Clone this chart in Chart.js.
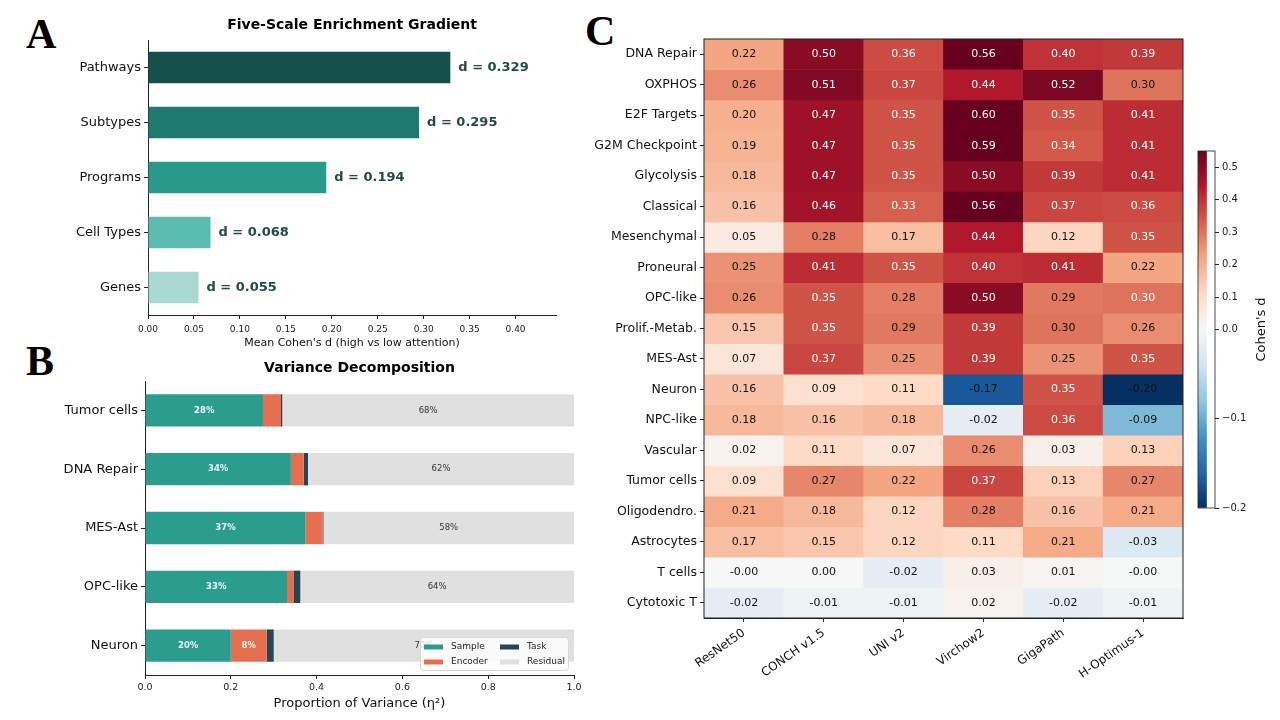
<!DOCTYPE html>
<html>
<head>
<meta charset="utf-8">
<script src="https://cdn.jsdelivr.net/npm/chart.js@4.4.1/dist/chart.umd.min.js"></script>
<style>
  body { margin: 0; width: 1280px; height: 720px; background: #fff; position: relative; overflow: hidden; }
  canvas { position: absolute; }
  .panel { position: absolute; font-family: "Liberation Serif", serif; font-weight: bold; font-size: 42px; line-height: 1; color: #000; }
</style>
</head>
<body>
<div class="panel" style="left:26px;top:13px">A</div>
<div class="panel" style="left:26px;top:340px">B</div>
<div class="panel" style="left:585px;top:10px">C</div>

<canvas id="cA" width="600" height="360" style="left:0;top:0"></canvas>
<canvas id="cB" width="600" height="365" style="left:0;top:355px"></canvas>
<canvas id="cC" width="600" height="720" style="left:590px;top:0"></canvas>
<canvas id="cBar" width="90" height="400" style="left:1190px;top:130px"></canvas>

<script>
// ---- panel A : enrichment gradient
const scaleLevels = ['Pathways', 'Subtypes', 'Programs', 'Cell Types', 'Genes'];
const cohenD = [0.329, 0.295, 0.194, 0.068, 0.055];
const aTicks = [0, 0.05, 0.10, 0.15, 0.20, 0.25, 0.30, 0.35, 0.40];
const levelColors = ['#14514a', '#1e7a6e', '#2a9a8c', '#5bbdb2', '#a8d8d0'];

// ---- panel B : variance decomposition
const compLabels = ['Tumor cells', 'DNA Repair', 'MES-Ast', 'OPC-like', 'Neuron'];
const sampleShare = [0.275, 0.34, 0.374, 0.331, 0.20];
const encoderShare = [0.042, 0.03, 0.04, 0.015, 0.084];
const taskShare = [0.003, 0.01, 0.002, 0.016, 0.016];
const residualShare = [0.68, 0.62, 0.584, 0.638, 0.70];
const bTicks = [0, 0.2, 0.4, 0.6, 0.8, 1.0];

// ---- panel C : Cohen's d heatmap
const rowLabels = ['DNA Repair', 'OXPHOS', 'E2F Targets', 'G2M Checkpoint', 'Glycolysis', 'Classical',
  'Mesenchymal', 'Proneural', 'OPC-like', 'Prolif.-Metab.', 'MES-Ast', 'Neuron', 'NPC-like',
  'Vascular', 'Tumor cells', 'Oligodendro.', 'Astrocytes', 'T cells', 'Cytotoxic T'];
const models = ['ResNet50', 'CONCH v1.5', 'UNI v2', 'Virchow2', 'GigaPath', 'H-Optimus-1'];
const resnetD   = [0.22, 0.26, 0.20, 0.19, 0.18, 0.16, 0.05, 0.25, 0.26, 0.15, 0.07, 0.16, 0.18, 0.02, 0.09, 0.21, 0.17, -0.001, -0.02];
const conchD    = [0.50, 0.51, 0.47, 0.47, 0.47, 0.46, 0.28, 0.41, 0.35, 0.35, 0.37, 0.09, 0.16, 0.11, 0.27, 0.18, 0.15, 0.00, -0.01];
const uniD      = [0.36, 0.37, 0.35, 0.35, 0.35, 0.33, 0.17, 0.35, 0.28, 0.29, 0.25, 0.11, 0.18, 0.07, 0.22, 0.12, 0.12, -0.02, -0.01];
const virchowD  = [0.56, 0.44, 0.60, 0.59, 0.50, 0.56, 0.44, 0.40, 0.50, 0.39, 0.39, -0.17, -0.02, 0.26, 0.37, 0.28, 0.11, 0.03, 0.02];
const gigapathD = [0.40, 0.52, 0.35, 0.34, 0.39, 0.37, 0.12, 0.41, 0.29, 0.298, 0.25, 0.35, 0.36, 0.03, 0.13, 0.16, 0.21, 0.01, -0.02];
const hoptD     = [0.39, 0.298, 0.41, 0.41, 0.41, 0.36, 0.35, 0.22, 0.302, 0.26, 0.35, -0.20, -0.09, 0.13, 0.27, 0.21, -0.03, -0.001, -0.01];
const heatValues = [resnetD, conchD, uniD, virchowD, gigapathD, hoptD];
const cbTicks = [-0.2, -0.1, 0.0, 0.1, 0.2, 0.3, 0.4, 0.5];
const V_MIN = -0.2, V_MAX = 0.55;

Chart.defaults.font.family = "'DejaVu Sans', sans-serif";
Chart.defaults.color = '#111';

// RdBu_r with a two-slope norm centred on 0
const RDBU = ['#053061', '#2166ac', '#4393c3', '#92c5de', '#d1e5f0', '#f7f7f7', '#fddbc7', '#f4a582', '#d6604d', '#b2182b', '#67001f'];
const RDBU_RGB = RDBU.map(h => [1, 3, 5].map(i => parseInt(h.substr(i, 2), 16)));
function norm(v) {
  const t = v < 0 ? 0.5 * (v - V_MIN) / (-V_MIN) : 0.5 + 0.5 * v / V_MAX;
  return Math.min(1, Math.max(0, t));
}
function cmap(t) {
  const s = t * 10, i = Math.min(9, Math.floor(s)), f = s - i;
  const a = RDBU_RGB[i], b = RDBU_RGB[i + 1];
  return 'rgb(' + a.map((c, k) => Math.round(c + (b[k] - c) * f)).join(',') + ')';
}

const tickGrid = { display: true, drawOnChartArea: false, tickLength: 4, color: '#222' };

// title centred over the axes
const axTitle = {
  id: 'axTitle',
  afterDraw(chart, args, opts) {
    const { ctx, chartArea: a } = chart;
    ctx.save();
    ctx.font = "bold 14px 'DejaVu Sans'";
    ctx.fillStyle = '#000';
    ctx.textAlign = 'center';
    ctx.textBaseline = 'middle';
    ctx.fillText(opts.text, (a.left + a.right) / 2, opts.y);
    ctx.restore();
  }
};

const dLabels = {
  id: 'dLabels',
  afterDatasetsDraw(chart) {
    const { ctx } = chart;
    ctx.save();
    ctx.font = "bold 13px 'DejaVu Sans'";
    ctx.fillStyle = '#234b47';
    ctx.textBaseline = 'middle';
    chart.getDatasetMeta(0).data.forEach((bar, i) => {
      ctx.fillText('d = ' + cohenD[i].toFixed(3), bar.x + 8, bar.y);
    });
    ctx.restore();
  }
};

new Chart(document.getElementById('cA'), {
  type: 'bar',
  data: {
    labels: scaleLevels,
    datasets: [{ data: cohenD, backgroundColor: levelColors, barPercentage: 0.57, categoryPercentage: 1 }]
  },
  options: {
    indexAxis: 'y', responsive: false, animation: false,
    layout: { padding: { top: 40, right: 44, left: 0, bottom: 0 } },
    plugins: { legend: { display: false }, tooltip: { enabled: false }, axTitle: { text: 'Five-Scale Enrichment Gradient', y: 25 } },
    scales: {
      x: {
        min: 0, max: 0.444,
        afterBuildTicks(s) { s.ticks = aTicks.map(v => ({ value: v })); },
        ticks: { callback: v => v.toFixed(2), font: { size: 9 }, color: '#222', padding: 5 },
        grid: tickGrid, border: { color: '#222' },
        title: { display: true, text: "Mean Cohen's d (high vs low attention)", font: { size: 11 }, color: '#111', padding: { top: 2, bottom: 10 } },
        afterFit(s) { s.height = 45; }
      },
      y: {
        ticks: { font: { size: 13 }, color: '#111', padding: 3 },
        grid: { ...tickGrid, offset: false }, border: { color: '#222' },
        afterFit(s) { s.width = 148; }
      }
    }
  },
  plugins: [axTitle, dLabels]
});

// percent labels inside stacked bars
const pctLabels = {
  id: 'pctLabels',
  afterDatasetsDraw(chart) {
    const { ctx } = chart;
    ctx.save();
    ctx.textAlign = 'center';
    ctx.textBaseline = 'middle';
    chart.data.datasets.forEach((ds, d) => {
      if (d === 2) return;
      chart.getDatasetMeta(d).data.forEach((bar, i) => {
        const v = ds.data[i];
        if (d !== 3 && v < 0.05) return;
        const p = bar.getProps(['x', 'y', 'base']);
        if (d === 3) { ctx.font = "8.5px 'DejaVu Sans'"; ctx.fillStyle = '#333'; }
        else { ctx.font = "bold 8.5px 'DejaVu Sans'"; ctx.fillStyle = 'rgba(255,255,255,0.92)'; }
        ctx.fillText(Math.round(v * 100) + '%', (p.x + p.base) / 2, p.y);
      });
    });
    ctx.restore();
  }
};

const boxLegend = {
  id: 'boxLegend',
  afterDraw(chart) {
    const { ctx, chartArea: a } = chart;
    const w = 148, h = 33, x0 = a.right - 6 - w, y0 = a.bottom - 5 - h;
    ctx.save();
    ctx.fillStyle = 'rgba(255,255,255,0.82)';
    ctx.strokeStyle = '#d8d8d8';
    ctx.lineWidth = 1;
    ctx.beginPath();
    ctx.roundRect(x0 + 0.5, y0 + 0.5, w, h, 3);
    ctx.fill(); ctx.stroke();
    ctx.font = "9px 'DejaVu Sans'";
    ctx.textBaseline = 'middle';
    const order = [0, 2, 1, 3];
    order.forEach((d, k) => {
      const ds = chart.data.datasets[d];
      const col = k % 2, row = Math.floor(k / 2);
      const sx = x0 + (col ? 80 : 4), sy = y0 + (row ? 25 : 10);
      ctx.fillStyle = ds.backgroundColor;
      ctx.fillRect(sx, sy - 2.5, 19, 5);
      ctx.fillStyle = '#222';
      ctx.fillText(ds.label, sx + 27, sy);
    });
    ctx.restore();
  }
};

new Chart(document.getElementById('cB'), {
  type: 'bar',
  data: {
    labels: compLabels,
    datasets: [
      { label: 'Sample', data: sampleShare, backgroundColor: '#2a9d8f' },
      { label: 'Encoder', data: encoderShare, backgroundColor: '#e76f51' },
      { label: 'Task', data: taskShare, backgroundColor: '#264653' },
      { label: 'Residual', data: residualShare, backgroundColor: '#e0e0e0' }
    ].map(d => ({ ...d, barPercentage: 0.55, categoryPercentage: 1, borderWidth: 0 }))
  },
  options: {
    indexAxis: 'y', responsive: false, animation: false,
    layout: { padding: { top: 26, right: 26, left: 0, bottom: 0 } },
    plugins: { legend: { display: false }, tooltip: { enabled: false }, axTitle: { text: 'Variance Decomposition', y: 13 } },
    scales: {
      x: {
        stacked: true, min: 0, max: 1,
        afterBuildTicks(s) { s.ticks = bTicks.map(v => ({ value: v })); },
        ticks: { callback: v => v.toFixed(1), font: { size: 9.5 }, color: '#222', padding: 3 },
        grid: tickGrid, border: { color: '#222' },
        title: { display: true, text: 'Proportion of Variance (η²)', font: { size: 13 }, color: '#111', padding: { top: 2, bottom: 9 } },
        afterFit(s) { s.height = 45; }
      },
      y: {
        stacked: true,
        ticks: { font: { size: 13 }, color: '#111', padding: 3 },
        grid: { ...tickGrid, offset: false }, border: { color: '#222' },
        afterFit(s) { s.width = 145; }
      }
    }
  },
  plugins: [axTitle, pctLabels, boxLegend]
});

// heatmap text + frame
const heatText = {
  id: 'heatText',
  afterDatasetsDraw(chart) {
    const { ctx, chartArea: a, scales: { x, y } } = chart;
    ctx.save();
    ctx.font = "11px 'DejaVu Sans'";
    ctx.textAlign = 'center';
    ctx.textBaseline = 'middle';
    heatValues.forEach((col, j) => col.forEach((v, i) => {
      ctx.fillStyle = v > 0.3 ? '#fff' : '#111';
      ctx.fillText(v.toFixed(2), x.getPixelForValue(j), y.getPixelForValue(i));
    }));
    ctx.strokeStyle = '#222';
    ctx.lineWidth = 1;
    ctx.strokeRect(a.left, a.top, a.right - a.left, a.bottom - a.top);
    ctx.restore();
  }
};

new Chart(document.getElementById('cC'), {
  type: 'bar',
  data: {
    labels: models,
    datasets: rowLabels.map((r, i) => ({
      label: r,
      data: models.map(() => [i - 0.5, i + 0.5]),
      backgroundColor: heatValues.map(col => cmap(norm(col[i]))),
      grouped: false, barPercentage: 1, categoryPercentage: 1, borderWidth: 0
    }))
  },
  options: {
    responsive: false, animation: false,
    layout: { padding: { top: 39, right: 7, left: 0, bottom: 0 } },
    plugins: { legend: { display: false }, tooltip: { enabled: false } },
    scales: {
      x: {
        ticks: { minRotation: 35, maxRotation: 35, font: { size: 12 }, color: '#111', padding: 4 },
        grid: { ...tickGrid, offset: false }, border: { color: '#222' },
        afterFit(s) { s.height = 102; }
      },
      y: {
        type: 'linear', reverse: true, min: -0.5, max: 18.5,
        afterBuildTicks(s) { s.ticks = rowLabels.map((_, i) => ({ value: i })); },
        ticks: { callback: v => rowLabels[v], font: { size: 12.5 }, color: '#111', autoSkip: false, padding: 3 },
        grid: tickGrid, border: { color: '#222' },
        afterFit(s) { s.width = 114; }
      }
    }
  },
  plugins: [heatText]
});

// colorbar
const cbFrame = {
  id: 'cbFrame',
  afterDraw(chart) {
    const { ctx, chartArea: a } = chart;
    ctx.save();
    ctx.strokeStyle = '#222';
    ctx.lineWidth = 0.8;
    ctx.strokeRect(a.left, a.top, a.right - a.left, a.bottom - a.top);
    ctx.translate(72, (a.top + a.bottom) / 2);
    ctx.rotate(-Math.PI / 2);
    ctx.font = "13px 'DejaVu Sans'";
    ctx.fillStyle = '#111';
    ctx.textAlign = 'center';
    ctx.textBaseline = 'middle';
    ctx.fillText("Cohen's d", 0, 0);
    ctx.restore();
  }
};

new Chart(document.getElementById('cBar'), {
  type: 'bar',
  data: {
    labels: [''],
    datasets: [{
      data: [[0, 1]],
      backgroundColor(c) {
        const a = c.chart.chartArea;
        if (!a) return '#ccc';
        const g = c.chart.ctx.createLinearGradient(0, a.bottom, 0, a.top);
        RDBU.forEach((col, i) => g.addColorStop(i / 10, col));
        return g;
      },
      barPercentage: 1, categoryPercentage: 1, borderWidth: 0
    }]
  },
  options: {
    responsive: false, animation: false,
    layout: { padding: { top: 21, bottom: 22, left: 8, right: 0 } },
    plugins: { legend: { display: false }, tooltip: { enabled: false } },
    scales: {
      x: { display: false, offset: false },
      y: {
        position: 'right', min: 0, max: 1,
        afterBuildTicks(s) { s.ticks = cbTicks.map(v => ({ value: norm(v) })); },
        ticks: { callback: (v, i) => (cbTicks[i] < 0 ? '\u2212' : '') + Math.abs(cbTicks[i]).toFixed(1), font: { size: 10 }, color: '#222', padding: 3 },
        grid: tickGrid, border: { display: false },
        afterFit(s) { s.width = 65; }
      }
    }
  },
  plugins: [cbFrame]
});
</script>
</body>
</html>
